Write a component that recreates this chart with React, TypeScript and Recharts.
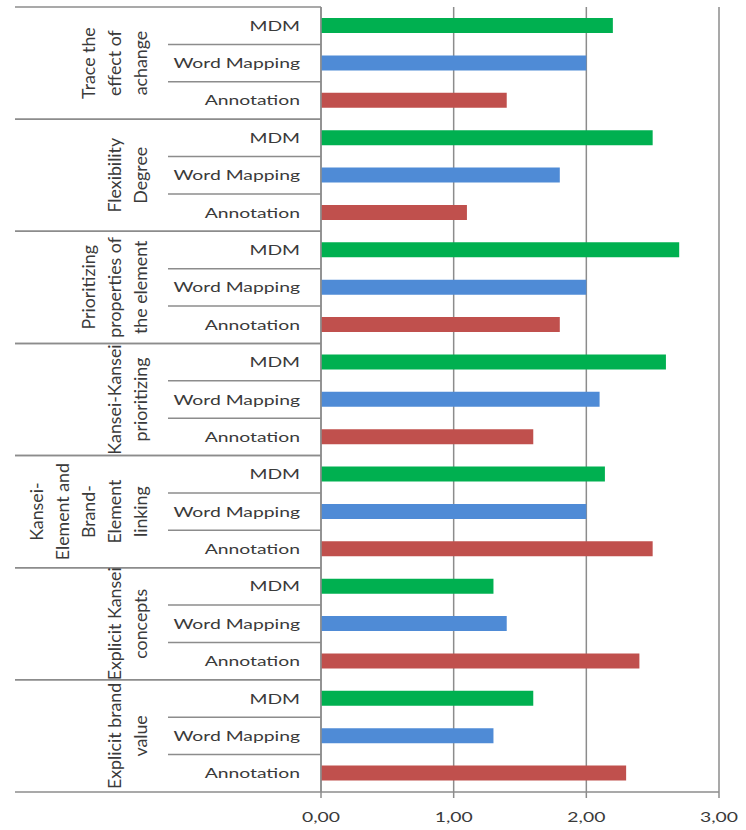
import { BarChart, Bar, XAxis, YAxis, CartesianGrid, Cell } from "recharts"

const groupLabels = [
  ["Trace the", "effect of", "achange"],
  ["Flexibility", "Degree"],
  ["Prioritizing", "properties of", "the element"],
  ["Kansei-Kansei", "prioritizing"],
  ["Kansei-", "Element and", "Brand-", "Element", "linking"],
  ["Explicit Kansei", "concepts"],
  ["Explicit brand", "value"],
]
const methods = ["MDM", "Word Mapping", "Annotation"]
const mdm = [2.2, 2.5, 2.7, 2.6, 2.14, 1.3, 1.6]
const wordMapping = [2.0, 1.8, 2.0, 2.1, 2.0, 1.4, 1.3]
const annotation = [1.4, 1.1, 1.8, 1.6, 2.5, 2.4, 2.3]
const xTicks = [0, 1, 2, 3]
const methodColors = ["#00B050", "#4F8BD6", "#C0504D"]

const series = [mdm, wordMapping, annotation]
const rows = groupLabels.flatMap((_, gi) =>
  methods.map((m, mi) => ({ id: `${gi}-${mi}`, group: gi, method: mi, label: m, value: series[mi][gi] }))
)

const W = 746
const H = 830
const TOP = 7
const PLOT_LEFT = 321
const OUTER_LEFT = 15
const INNER_LEFT = 168
const XAXIS_H = 38
const ROW_H = (H - TOP - XAXIS_H) / rows.length
const LINE = "#8C8C8C"
const TEXT = "#3A3A3A"
const FONT = "Lato, 'Open Sans', sans-serif"
const FS = 14
// the source picture is stretched, so text is widened to match
const SX = 1.38
const ROT_SX = 1.3
const ROT_SY = 1.27

const CategoryTick = (props: any) => {
  const { y, payload } = props
  const row = rows.find((r) => r.id === payload.value)
  if (!row) return null
  const top = y - ROW_H / 2
  const bottom = y + ROW_H / 2
  const lines = groupLabels[row.group]
  return (
    <g>
      {row.method === 0 && (
        <line x1={OUTER_LEFT} x2={PLOT_LEFT} y1={top} y2={top} stroke={LINE} strokeWidth={1.5} />
      )}
      {row.method === 2 ? (
        <line x1={OUTER_LEFT} x2={PLOT_LEFT} y1={bottom} y2={bottom} stroke={LINE} strokeWidth={1.5} />
      ) : (
        <line x1={INNER_LEFT} x2={PLOT_LEFT} y1={bottom} y2={bottom} stroke={LINE} strokeWidth={1.5} />
      )}
      <text
        transform={`translate(300,${y + 5}) scale(${SX},1)`}
        textAnchor="end"
        fontFamily={FONT}
        fontSize={FS}
        fill={TEXT}
      >
        {row.label}
      </text>
      {row.method === 1 &&
        lines.map((t, i) => (
          <text
            key={i}
            transform={`translate(${140 - (lines.length - 1 - i) * 26},${y}) scale(${ROT_SX},${ROT_SY}) rotate(-90)`}
            textAnchor="middle"
            dominantBaseline="central"
            fontFamily={FONT}
            fontSize={FS}
            fill={TEXT}
          >
            {t}
          </text>
        ))}
    </g>
  )
}

const ValueTick = (props: any) => {
  const { x, y, payload } = props
  return (
    <text
      transform={`translate(${x},${y + 22}) scale(${SX},1)`}
      textAnchor="middle"
      fontFamily={FONT}
      fontSize={FS}
      fill={TEXT}
    >
      {payload.value.toFixed(2).replace(".", ",")}
    </text>
  )
}

const App = () => {
  return (
    <div style={{ position: "absolute", left: 0, top: 0, width: W, height: H, background: "#fff" }}>
      <BarChart
        width={W}
        height={H}
        layout="vertical"
        data={rows}
        margin={{ top: TOP, right: 27, bottom: 0, left: OUTER_LEFT }}
        barSize={15}
      >
        <CartesianGrid horizontal={false} stroke={LINE} strokeWidth={1.5} />
        <XAxis
          type="number"
          domain={[0, 3]}
          ticks={xTicks}
          height={XAXIS_H}
          tickSize={6}
          axisLine={{ stroke: LINE, strokeWidth: 1.5 }}
          tickLine={{ stroke: LINE, strokeWidth: 1.5 }}
          tick={(p: any) => <ValueTick {...p} />}
        />
        <YAxis
          type="category"
          dataKey="id"
          width={PLOT_LEFT - OUTER_LEFT}
          interval={0}
          tickLine={false}
          axisLine={{ stroke: LINE, strokeWidth: 1.5 }}
          tick={(p: any) => <CategoryTick {...p} />}
        />
        <Bar dataKey="value" isAnimationActive={false}>
          {rows.map((r) => (
            <Cell key={r.id} fill={methodColors[r.method]} />
          ))}
        </Bar>
      </BarChart>
    </div>
  )
}

export default App
